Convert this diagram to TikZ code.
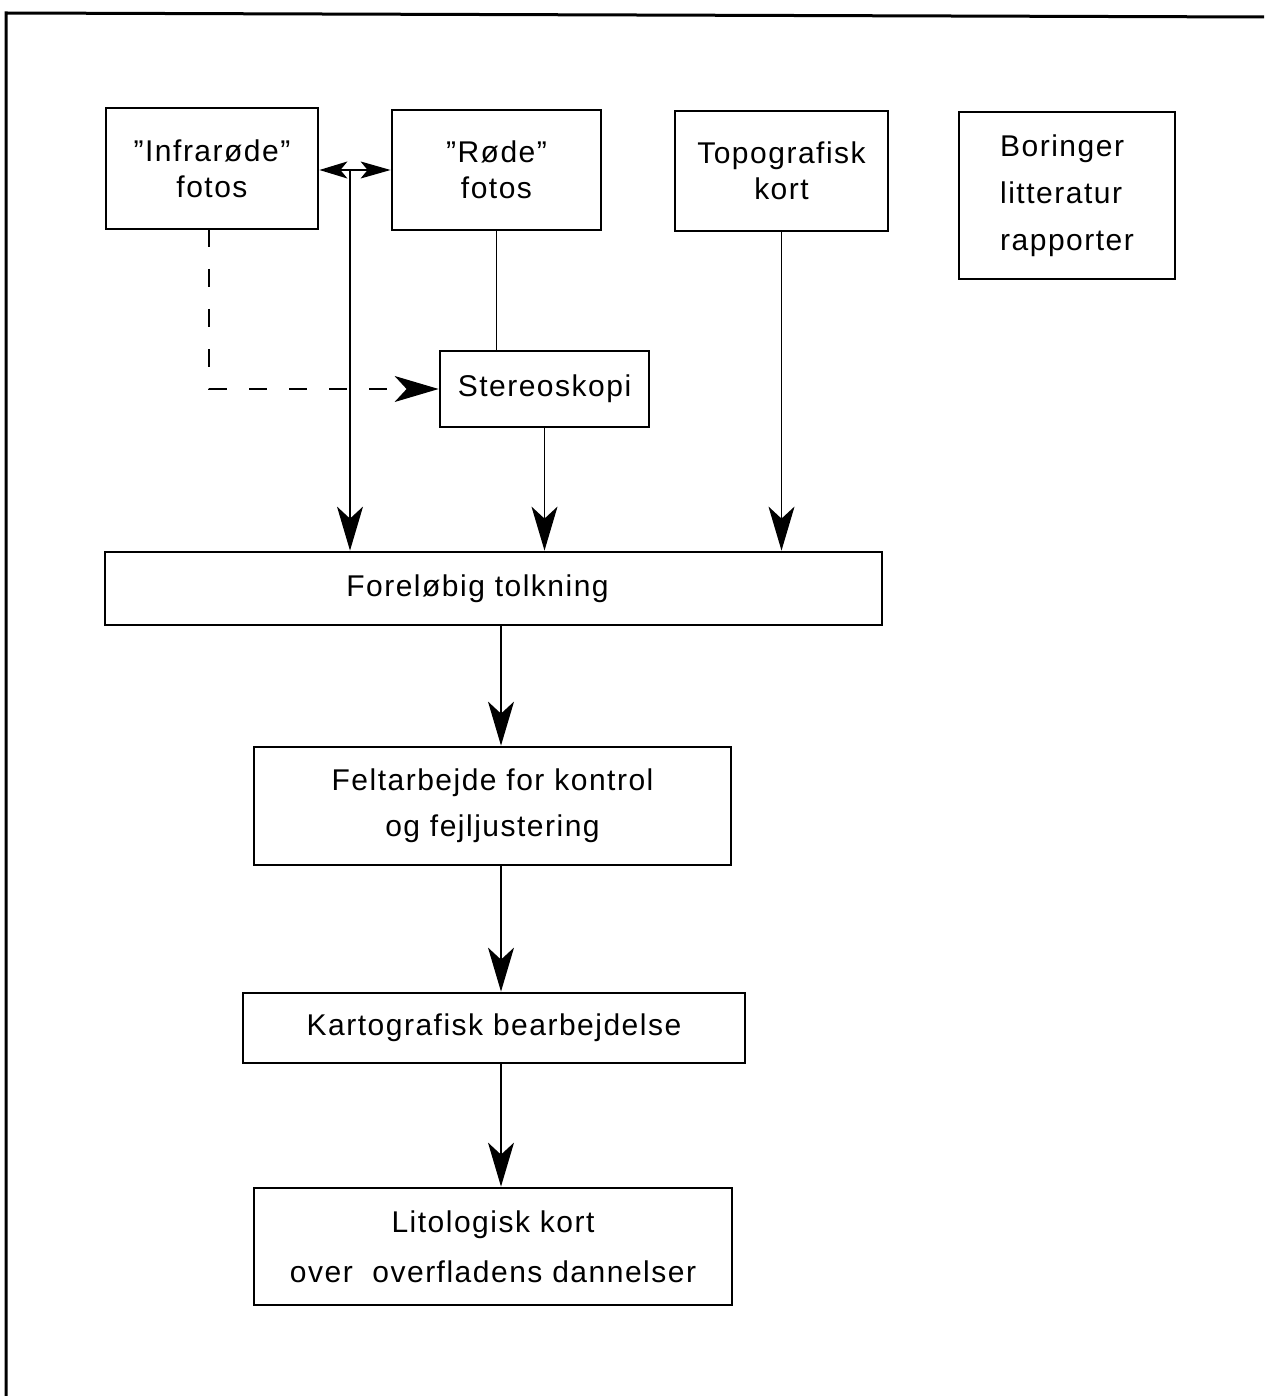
\documentclass[tikz,border=0pt]{standalone}
\usepackage{fontspec}
\setmainfont[LetterSpace=5]{Liberation Sans}
\usetikzlibrary{arrows.meta,calc}
\tikzset{
  box/.style={draw, line width=2.8pt, inner sep=0pt, align=center,
    font=\fontsize{30}{36}\selectfont},
  conn/.style={line width=1.4pt},
  arr/.style={conn, -{Stealth[length=44pt,width=26pt,inset=12pt]}},
  dblarr/.style={conn, {Stealth[length=28pt,width=17pt,inset=7pt]}-{Stealth[length=30pt,width=17pt,inset=7pt]}},
  dasharr/.style={conn, dash pattern=on 18pt off 22pt, -{Stealth[length=44pt,width=26pt,inset=12pt]}},
  frame/.style={line width=3pt}
}
\begin{document}
\begin{tikzpicture}[x=1pt,y=-1pt]
\useasboundingbox[fill=white] (0,0) rectangle (1264,1396);
\draw[frame] (6,1396) -- (6,13) -- (1264,17);

\node[box, minimum width=212pt, minimum height=121pt] (inf) at (212,168.5) {\textquotedblright Infrarøde\textquotedblright\\fotos};
\node[box, minimum width=209pt, minimum height=120pt] (rod) at (496.5,170) {\textquotedblright Røde\textquotedblright\\fotos};
\node[box, minimum width=213pt, minimum height=120pt] (topo) at (781.5,171) {Topografisk\\kort};
\node[box, minimum width=216pt, minimum height=167pt, align=left,
  font=\fontsize{30}{47}\selectfont] (bor) at (1067,195.5) {Boringer\\litteratur\\rapporter};
\node[box, minimum width=209pt, minimum height=76pt] (ste) at (544.5,389) {Stereoskopi};
\node[box, minimum width=777pt, minimum height=73pt] (forl) at (493.5,588.5) {\hspace*{-32pt}Foreløbig tolkning};
\node[box, minimum width=477pt, minimum height=118pt,
  font=\fontsize{30}{46}\selectfont] (felt) at (492.5,806) {Feltarbejde for kontrol\\og fejljustering};
\node[box, minimum width=502pt, minimum height=70pt] (kart) at (494,1028) {Kartografisk bearbejdelse};
\node[box, minimum width=478pt, minimum height=117pt,
  font=\fontsize{30}{50}\selectfont] (lito) at (493,1246.5) {Litologisk kort\\over\ \ overfladens dannelser};

\draw[dblarr] (inf.east |- rod.west) -- (rod.west);
\coordinate (j) at (350,170);
\draw[arr] (j) -- (j |- forl.north);
\coordinate (d) at (209,229);
\draw[dasharr] (d) |- (ste.west);
\draw[conn] (rod.south) -- (rod.south |- ste.north);
\draw[arr] (ste.south) -- (ste.south |- forl.north);
\draw[arr] (topo.south) -- (topo.south |- forl.north);
\coordinate (m1) at (501,0);
\draw[arr] (m1 |- forl.south) -- (m1 |- felt.north);
\draw[arr] (m1 |- felt.south) -- (m1 |- kart.north);
\draw[arr] (m1 |- kart.south) -- (m1 |- lito.north);
\end{tikzpicture}
\end{document}
